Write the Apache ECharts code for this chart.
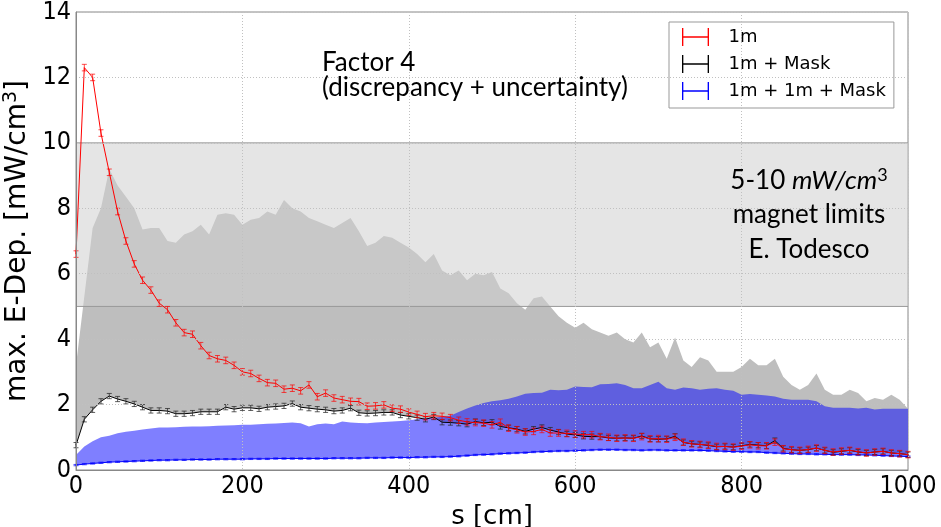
<!DOCTYPE html>
<html>
<head>
<meta charset="utf-8">
<script src="https://cdn.jsdelivr.net/npm/echarts@6/dist/echarts.min.js"></script>
<style>
  html, body { margin: 0; padding: 0; background: #fff; }
  #main { width: 941px; height: 527px; }
</style>
</head>
<body>
<div id="main"></div>
<script>
// positions along s, every 10 cm
var sPos = [];
for (var s = 0; s <= 1000; s += 10) sPos.push(s);

// 1m
var redData = [6.6, 12.3, 12.0, 10.3, 9.1, 7.9, 7.0, 6.3, 5.8, 5.5,
  5.1, 4.9, 4.5, 4.2, 4.15, 3.8, 3.5, 3.4, 3.35, 3.2,
  3.0, 2.95, 2.8, 2.67, 2.65, 2.47, 2.5, 2.42, 2.6, 2.24,
  2.35, 2.2, 2.15, 2.1, 2.09, 1.95, 1.96, 1.99, 1.89, 1.86,
  1.77, 1.7, 1.63, 1.66, 1.64, 1.6, 1.52, 1.47, 1.45, 1.43,
  1.38, 1.46, 1.28, 1.23, 1.16, 1.18, 1.24, 1.13, 1.13, 1.12,
  1.1, 1.08, 1.08, 1.02, 1.0, 0.97, 0.98, 0.97, 1.02, 0.95,
  0.96, 0.94, 1.0, 0.85, 0.8, 0.78, 0.76, 0.72, 0.72, 0.7,
  0.73, 0.77, 0.74, 0.74, 0.85, 0.65, 0.62, 0.6, 0.63, 0.67,
  0.6, 0.55, 0.58, 0.6, 0.56, 0.52, 0.55, 0.57, 0.52, 0.5,
  0.47];
// 1m + Mask
var blackData = [0.76, 1.55, 1.84, 2.1, 2.26, 2.17, 2.1, 2.02, 1.92, 1.82,
  1.82, 1.8, 1.72, 1.72, 1.74, 1.78, 1.78, 1.78, 1.92, 1.86,
  1.9, 1.9, 1.87, 1.92, 1.94, 1.96, 2.03, 1.92, 1.89, 1.86,
  1.84, 1.8, 1.82, 1.89, 1.75, 1.73, 1.74, 1.76, 1.76, 1.68,
  1.64, 1.6, 1.55, 1.62, 1.46, 1.45, 1.43, 1.4, 1.48, 1.44,
  1.46, 1.33, 1.29, 1.25, 1.18, 1.25, 1.3, 1.22, 1.16, 1.1,
  1.07, 1.03, 1.02, 1.02, 0.98, 0.97, 0.98, 0.97, 1.04, 0.95,
  0.94, 0.95, 1.03, 0.84, 0.8, 0.78, 0.75, 0.71, 0.72, 0.7,
  0.74, 0.78, 0.76, 0.74, 0.9, 0.66, 0.62, 0.6, 0.62, 0.67,
  0.6, 0.54, 0.57, 0.6, 0.55, 0.52, 0.55, 0.57, 0.52, 0.5,
  0.47];
// upper edge of the grey factor-4 band above 1m + Mask
var greyUpper = [3.2, 5.3, 7.4, 8.0, 9.2, 8.7, 8.35, 8.0, 7.35, 7.4,
  7.4, 7.0, 6.95, 7.2, 7.3, 7.5, 7.2, 7.8, 7.85, 7.8,
  7.5, 7.65, 7.7, 7.9, 7.8, 8.25, 8.0, 7.9, 7.7, 7.6,
  7.5, 7.4, 7.55, 7.7, 7.3, 6.85, 6.95, 7.15, 7.1, 6.95,
  6.8, 6.6, 6.35, 6.6, 6.1, 5.95, 6.1, 5.8, 6.0, 5.95,
  6.05, 5.55, 5.4, 5.1, 4.9, 5.25, 5.3, 5.0, 4.7, 4.5,
  4.35, 4.5, 4.3, 4.2, 4.1, 4.2, 4.0, 3.9, 4.2, 3.75,
  3.9, 3.4, 4.05, 3.35, 3.15, 3.45, 3.35, 3.0, 3.0, 3.0,
  3.15, 3.4, 3.2, 3.2, 3.4, 2.85, 2.6, 2.45, 2.6, 2.95,
  2.45, 2.3, 2.3, 2.45, 2.35, 2.1, 2.2, 2.15, 2.3, 2.15,
  1.87];
// 1m + 1m + Mask
var blueData = [0.15, 0.18, 0.2, 0.22, 0.24, 0.25, 0.26, 0.27, 0.28, 0.29,
  0.3, 0.3, 0.31, 0.31, 0.32, 0.32, 0.32, 0.33, 0.33, 0.33,
  0.33, 0.34, 0.34, 0.34, 0.35, 0.35, 0.35, 0.35, 0.35, 0.35,
  0.35, 0.36, 0.36, 0.36, 0.36, 0.37, 0.37, 0.37, 0.38, 0.38,
  0.38, 0.39, 0.39, 0.4, 0.4, 0.41, 0.42, 0.44, 0.46, 0.47,
  0.48, 0.5, 0.51, 0.52, 0.53, 0.55, 0.56, 0.57, 0.58, 0.58,
  0.59, 0.6, 0.61, 0.62, 0.62, 0.62, 0.61, 0.61, 0.6, 0.61,
  0.61, 0.6, 0.6, 0.6, 0.6, 0.6, 0.59, 0.58, 0.57, 0.56,
  0.56, 0.55, 0.55, 0.53, 0.52, 0.51, 0.5, 0.49, 0.49, 0.48,
  0.48, 0.47, 0.47, 0.47, 0.46, 0.46, 0.45, 0.44, 0.43, 0.42,
  0.41];
// upper edge of the blue factor-4 band
var blueUpper = [0.46, 0.72, 0.88, 1.0, 1.05, 1.12, 1.17, 1.2, 1.24, 1.27,
  1.3, 1.3, 1.31, 1.32, 1.33, 1.33, 1.34, 1.35, 1.36, 1.37,
  1.38, 1.38, 1.4, 1.41, 1.42, 1.44, 1.45, 1.43, 1.33, 1.4,
  1.42, 1.4, 1.48, 1.45, 1.44, 1.43, 1.45, 1.47, 1.48, 1.5,
  1.52, 1.55, 1.58, 1.6, 1.63, 1.66, 1.77, 1.88, 1.97, 2.05,
  2.1, 2.13, 2.18, 2.25, 2.33, 2.35, 2.36, 2.45, 2.44, 2.45,
  2.55, 2.54, 2.53, 2.62, 2.63, 2.65, 2.6, 2.5, 2.5, 2.6,
  2.7, 2.5, 2.45, 2.52, 2.5, 2.45, 2.48, 2.5, 2.45, 2.42,
  2.3, 2.32, 2.3, 2.28, 2.25, 2.18, 2.15, 2.15, 2.15, 2.1,
  1.95, 1.9, 1.9, 1.9, 1.88, 1.9, 1.85, 1.87, 1.87, 1.87,
  1.87];

var redErr = 0.1, blackErr = 0.08, blueErr = 0.02;
var limitBand = [5, 10];
var xTicks = [0, 1000, 200];
var yTicks = [0, 14, 2];

function pairs(vals) {
  var out = [];
  for (var i = 0; i < vals.length; i++) out.push([sPos[i], vals[i]]);
  return out;
}

function bandItem(lower, upper, color) {
  return function (params, api) {
    if (params.dataIndex !== 0) return;
    var pts = [];
    for (var i = 0; i < sPos.length; i++) pts.push(api.coord([sPos[i], upper[i]]));
    for (var j = sPos.length - 1; j >= 0; j--) pts.push(api.coord([sPos[j], lower[j]]));
    return { type: 'polygon', shape: { points: pts }, style: { fill: color } };
  };
}

function errItem(err, color) {
  return function (params, api) {
    var x = api.value(0), y = api.value(1);
    var top = api.coord([x, y + err]), bot = api.coord([x, y - err]);
    var st = { stroke: color, lineWidth: 1 };
    return {
      type: 'group',
      children: [
        { type: 'line', shape: { x1: top[0], y1: top[1], x2: bot[0], y2: bot[1] }, style: st },
        { type: 'line', shape: { x1: top[0] - 2.5, y1: top[1], x2: top[0] + 2.5, y2: top[1] }, style: st },
        { type: 'line', shape: { x1: bot[0] - 2.5, y1: bot[1], x2: bot[0] + 2.5, y2: bot[1] }, style: st }
      ]
    };
  };
}

var errIcon = 'path://M0,0h1.5v20h-1.5z M0,9.25h30v1.5h-30z M28.5,0h1.5v20h-1.5z';
var tickFont = "'DejaVu Sans Condensed', 'DejaVu Sans', sans-serif";
var noteFont = "Lato, 'DejaVu Sans', sans-serif";

var chart = echarts.init(document.getElementById('main'));
var option = {
  animation: false,
  backgroundColor: '#fff',
  grid: {
    left: 76, right: 33, top: 12, bottom: 57,
    outerBoundsMode: 'none', containLabel: false,
    show: true, borderColor: '#888', borderWidth: 1
  },
  legend: {
    left: 669, top: 22,
    orient: 'vertical',
    padding: [6, 8, 8, 13],
    itemWidth: 28, itemHeight: 18, itemGap: 9,
    backgroundColor: '#fff', borderColor: '#999', borderWidth: 1, borderRadius: 0,
    textStyle: { fontFamily: 'DejaVu Sans', fontSize: 18, color: '#000', padding: [0, 0, 0, 14] },
    data: [
      { name: '1m', icon: errIcon },
      { name: '1m + Mask', icon: errIcon },
      { name: '1m + 1m + Mask', icon: errIcon }
    ]
  },
  xAxis: {
    type: 'value', min: xTicks[0], max: xTicks[1], interval: xTicks[2], z: 10,
    name: 's [cm]', nameLocation: 'middle', nameGap: 30,
    nameTextStyle: { fontFamily: 'DejaVu Sans', fontSize: 26, color: '#000' },
    axisLine: { lineStyle: { color: '#888' } },
    axisTick: { show: false },
    axisLabel: {
      fontFamily: tickFont, fontSize: 25, color: '#000', margin: 4,
      formatter: function (v) { return String(v); }
    },
    splitLine: { show: true, lineStyle: { color: '#c0c0c0', type: [1, 2], width: 1 } }
  },
  yAxis: {
    type: 'value', min: yTicks[0], max: yTicks[1], interval: yTicks[2], z: 10,
    name: '{a|max. E-Dep. [mW/cm}{s|3}{a|]}', nameLocation: 'middle', nameGap: 34,
    nameTextStyle: {
      rich: {
        a: { fontFamily: 'DejaVu Sans', fontSize: 28, color: '#000' },
        s: { fontFamily: 'DejaVu Sans', fontSize: 19, color: '#000', padding: [0, 0, 12, 0] }
      }
    },
    axisLine: { lineStyle: { color: '#888' } },
    axisTick: { show: false },
    axisLabel: {
      fontFamily: tickFont, fontSize: 25, color: '#000', margin: 5,
      formatter: function (v) { return String(v); }
    },
    splitLine: { show: true, lineStyle: { color: '#c0c0c0', type: [1, 2], width: 1 } }
  },
  graphic: [
    { type: 'text', left: 322, top: 50, z: 20,
      style: { text: 'Factor 4', font: '26px ' + noteFont, fill: '#000' } },
    { type: 'text', left: 322, top: 75, z: 20,
      style: { text: '(discrepancy + uncertainty)', font: '26px ' + noteFont, fill: '#000' } },
    { type: 'text', x: 809, y: 181, z: 20,
      style: {
        text: '{n|5-10 }{i|mW/cm}{p|3}', align: 'center', verticalAlign: 'middle',
        rich: {
          n: { fontFamily: noteFont, fontSize: 26, color: '#000' },
          i: { fontFamily: noteFont, fontSize: 26, fontStyle: 'italic', color: '#000' },
          p: { fontFamily: noteFont, fontSize: 18, color: '#000', padding: [0, 0, 12, 0] }
        }
      } },
    { type: 'text', x: 809, y: 215, z: 20,
      style: { text: 'magnet limits', font: '26px ' + noteFont, fill: '#000', align: 'center', verticalAlign: 'middle' } },
    { type: 'text', x: 809, y: 250, z: 20,
      style: { text: 'E. Todesco', font: '26px ' + noteFont, fill: '#000', align: 'center', verticalAlign: 'middle' } }
  ],
  series: [
    { type: 'custom', name: 'greyBand', z: 1, silent: true, data: [[0, 0]],
      renderItem: bandItem(blackData, greyUpper, '#bebebe') },
    { type: 'custom', name: 'blueBand', z: 2, silent: true, data: [[0, 0]],
      renderItem: bandItem(blueData, blueUpper, 'rgba(0,0,255,0.5)') },
    { type: 'custom', name: 'limits', z: 3, silent: true, data: [[0, 0]],
      renderItem: function (params, api) {
        var p1 = api.coord([xTicks[0], limitBand[1]]);
        var p2 = api.coord([xTicks[1], limitBand[0]]);
        return {
          type: 'group',
          children: [
            { type: 'rect', shape: { x: p1[0], y: p1[1], width: p2[0] - p1[0], height: p2[1] - p1[1] },
              style: { fill: 'rgba(208,208,208,0.55)' } },
            { type: 'line', shape: { x1: p1[0], y1: p1[1], x2: p2[0], y2: p1[1] }, style: { stroke: '#999', lineWidth: 1 } },
            { type: 'line', shape: { x1: p1[0], y1: p2[1], x2: p2[0], y2: p2[1] }, style: { stroke: '#999', lineWidth: 1 } }
          ]
        };
      } },
    { type: 'line', name: '1m + 1m + Mask', z: 5, data: pairs(blueData), showSymbol: false,
      color: '#0000ff', lineStyle: { color: '#0000ff', width: 1 } },
    { type: 'custom', name: 'blueErr', z: 6, silent: true, data: pairs(blueData),
      renderItem: errItem(blueErr, 'rgba(0,0,255,0.7)') },
    { type: 'line', name: '1m + Mask', z: 5, data: pairs(blackData), showSymbol: false,
      color: '#000', lineStyle: { color: '#000', width: 1 } },
    { type: 'custom', name: 'blackErr', z: 6, silent: true, data: pairs(blackData),
      renderItem: errItem(blackErr, 'rgba(40,40,40,0.75)') },
    { type: 'line', name: '1m', z: 7, data: pairs(redData), showSymbol: false,
      color: '#ff0000', lineStyle: { color: '#ff0000', width: 1 } },
    { type: 'custom', name: 'redErr', z: 8, silent: true, data: pairs(redData),
      renderItem: errItem(redErr, 'rgba(255,0,0,0.7)') }
  ]
};
chart.setOption(option);
</script>
</body>
</html>
